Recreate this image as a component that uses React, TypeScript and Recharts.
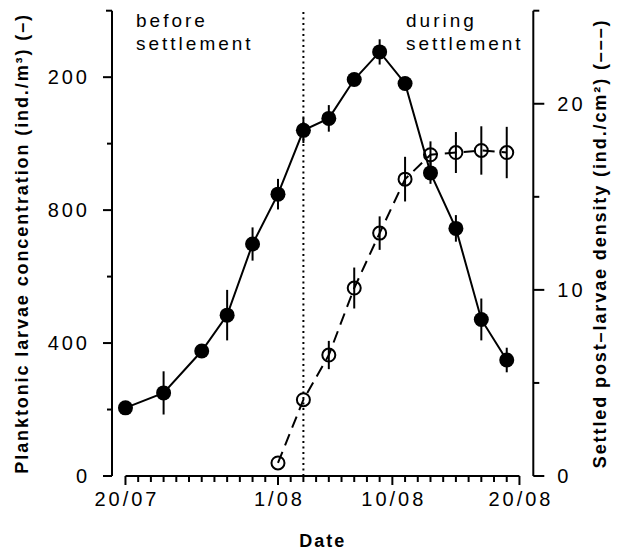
import React from 'react';
import { ComposedChart, Line, XAxis, YAxis, ErrorBar, ReferenceLine } from 'recharts';

// days counted from 20/07
const plankDays = [0, 3, 6, 8, 10, 12, 14, 16, 18, 20, 22, 24, 26, 28, 30];
const plankConc = [205, 250, 376, 484, 698, 848, 1040, 1076, 1193, 1276, 1181, 912, 745, 471, 349];
const plankErr = [10, 65, 15, 76, 50, 46, 38, 40, 15, 38, 12, 33, 40, 63, 37];

const settleDays = [12, 14, 16, 18, 20, 22, 24, 26, 28, 30];
const settleDens = [0.7, 4.1, 6.5, 10.1, 13.05, 15.95, 17.26, 17.38, 17.49, 17.38];
const settleErr = [0, 0, 0.76, 1.1, 0.9, 1.2, 0.72, 1.1, 1.3, 1.38];

const xTicks = Array.from({ length: 32 }, (_, i) => i);
const xMajorTicks = [0, 12, 21, 31];
const xTickLabels = ['20/07', '1/08', '10/08', '20/08'];

const leftTicks = [0, 200, 400, 600, 800, 1000, 1200, 1400];
const leftMajorTicks = [0, 400, 800, 1200];
const leftTickLabels = ['0', '400', '800', '200']; // top label reads "200" in the source figure

const rightTicks = [0, 5, 10, 15, 20, 25];
const rightMajorTicks = [0, 10, 20];
const rightTickLabels = ['0', '10', '20'];

const settlementStartDay = 14;

const plankData = plankDays.map((d, i) => ({ day: d, value: plankConc[i], err: plankErr[i] }));
const settleData = settleDays.map((d, i) => ({ day: d, value: settleDens[i], err: settleErr[i] }));

const FONT = '"Liberation Sans", Arial, sans-serif';

const XTick = ({ x, y, payload }: any) => {
  const idx = xMajorTicks.indexOf(payload.value);
  const major = idx >= 0;
  return (
    <g>
      <line x1={x} x2={x} y1={y} y2={y + (major ? 9 : 6)} stroke="#000" strokeWidth={2} />
      {major && (
        <text x={x + 1.5} y={y + 30} textAnchor="middle" fontSize={20} letterSpacing={3} fontFamily={FONT} fill="#000">
          {xTickLabels[idx]}
        </text>
      )}
    </g>
  );
};

const LeftTick = ({ x, y, payload }: any) => {
  const idx = leftMajorTicks.indexOf(payload.value);
  const major = idx >= 0;
  const len = major ? 9 : payload.value === 1400 ? 6 : 5;
  return (
    <g>
      <line x1={x - len} x2={x} y1={y} y2={y} stroke="#000" strokeWidth={2} />
      {major && (
        <text x={x - 22} y={y} dy="0.35em" textAnchor="end" fontSize={20} letterSpacing={3} fontFamily={FONT} fill="#000">
          {leftTickLabels[idx]}
        </text>
      )}
    </g>
  );
};

const RightTick = ({ x, y, payload }: any) => {
  const idx = rightMajorTicks.indexOf(payload.value);
  const major = idx >= 0;
  const len = major ? 11 : 6;
  return (
    <g>
      <line x1={x} x2={x + len} y1={y} y2={y} stroke="#000" strokeWidth={2} />
      {major && (
        <text x={x + 24} y={y} dy="0.35em" textAnchor="start" fontSize={20} letterSpacing={3} fontFamily={FONT} fill="#000">
          {rightTickLabels[idx]}
        </text>
      )}
    </g>
  );
};

const leftLabel = (props: any) => {
  const vb = props.viewBox;
  const cx = vb.x + 10;
  const cy = vb.y + vb.height / 2;
  return (
    <text x={cx} y={cy} transform={`rotate(-90 ${cx} ${cy})`} textAnchor="middle" dominantBaseline="central"
      fontSize={18} fontWeight="bold" letterSpacing={1.9} fontFamily={FONT} fill="#000">
      Planktonic larvae concentration (ind./m³) (–)
    </text>
  );
};

const rightLabel = (props: any) => {
  const vb = props.viewBox;
  const cx = vb.x + vb.width - 13;
  const cy = vb.y + vb.height / 2;
  return (
    <text x={cx} y={cy} transform={`rotate(-90 ${cx} ${cy})`} textAnchor="middle" dominantBaseline="central"
      fontSize={18} fontWeight="bold" letterSpacing={1.9} fontFamily={FONT} fill="#000">
      Settled post–larvae density (ind./cm²) (–––)
    </text>
  );
};

const xLabel = (props: any) => {
  const vb = props.viewBox;
  return (
    <text x={vb.x + vb.width / 2} y={vb.y + vb.height - 5} textAnchor="middle"
      fontSize={18} fontWeight="bold" letterSpacing={2} fontFamily={FONT} fill="#000">
      Date
    </text>
  );
};

export default function App() {
  return (
    <div style={{ position: 'absolute', left: 0, top: 0, width: 622, height: 552, background: '#fff' }}>
      <ComposedChart width={622} height={552} margin={{ top: 10.7, right: 8.7, bottom: 0, left: 12 }}>
        <XAxis
          dataKey="day"
          type="number"
          domain={[-1.06, 32.09]}
          allowDataOverflow
          ticks={xTicks}
          interval={0}
          axisLine={false}
          tickLine={false}
          tickSize={0}
          tickMargin={0}
          tick={<XTick />}
          height={76}
          label={xLabel}
        />
        <YAxis
          yAxisId="left"
          orientation="left"
          type="number"
          domain={[0, 1400]}
          ticks={leftTicks}
          interval={0}
          width={100}
          axisLine={{ stroke: '#000', strokeWidth: 2 }}
          tickLine={false}
          tickSize={0}
          tickMargin={0}
          tick={<LeftTick />}
          label={leftLabel}
        />
        <YAxis
          yAxisId="right"
          orientation="right"
          type="number"
          domain={[0, 25]}
          ticks={rightTicks}
          interval={0}
          width={80}
          axisLine={{ stroke: '#000', strokeWidth: 2 }}
          tickLine={false}
          tickSize={0}
          tickMargin={0}
          tick={<RightTick />}
          label={rightLabel}
        />
        <ReferenceLine yAxisId="left" segment={[{ x: 0, y: 0 }, { x: 31, y: 0 }]} stroke="#000" strokeWidth={2} />
        <ReferenceLine yAxisId="left" x={settlementStartDay} stroke="#000" strokeWidth={2} strokeDasharray="2 3.5" />
        <Line
          yAxisId="right"
          data={settleData}
          dataKey="value"
          stroke="#000"
          strokeWidth={2}
          strokeDasharray="12 7"
          dot={{ r: 6.5, fill: 'none', stroke: '#000', strokeWidth: 2, strokeDasharray: '' }}
          activeDot={false}
          isAnimationActive={false}
        >
          <ErrorBar dataKey="err" direction="y" width={0} stroke="#000" strokeWidth={2} isAnimationActive={false} />
        </Line>
        <Line
          yAxisId="left"
          data={plankData}
          dataKey="value"
          stroke="#000"
          strokeWidth={2}
          dot={{ r: 7.5, fill: '#000', stroke: 'none' }}
          activeDot={false}
          isAnimationActive={false}
        >
          <ErrorBar dataKey="err" direction="y" width={0} stroke="#000" strokeWidth={2} isAnimationActive={false} />
        </Line>
      </ComposedChart>
      <svg width={622} height={552} style={{ position: 'absolute', left: 0, top: 0, pointerEvents: 'none' }}>
        <g fontFamily={FONT} fontSize={19} letterSpacing={3} fill="#000">
          <text x={136} y={27}>before</text>
          <text x={136} y={50}>settlement</text>
          <text x={406} y={27}>during</text>
          <text x={406} y={50}>settlement</text>
        </g>
      </svg>
    </div>
  );
}
